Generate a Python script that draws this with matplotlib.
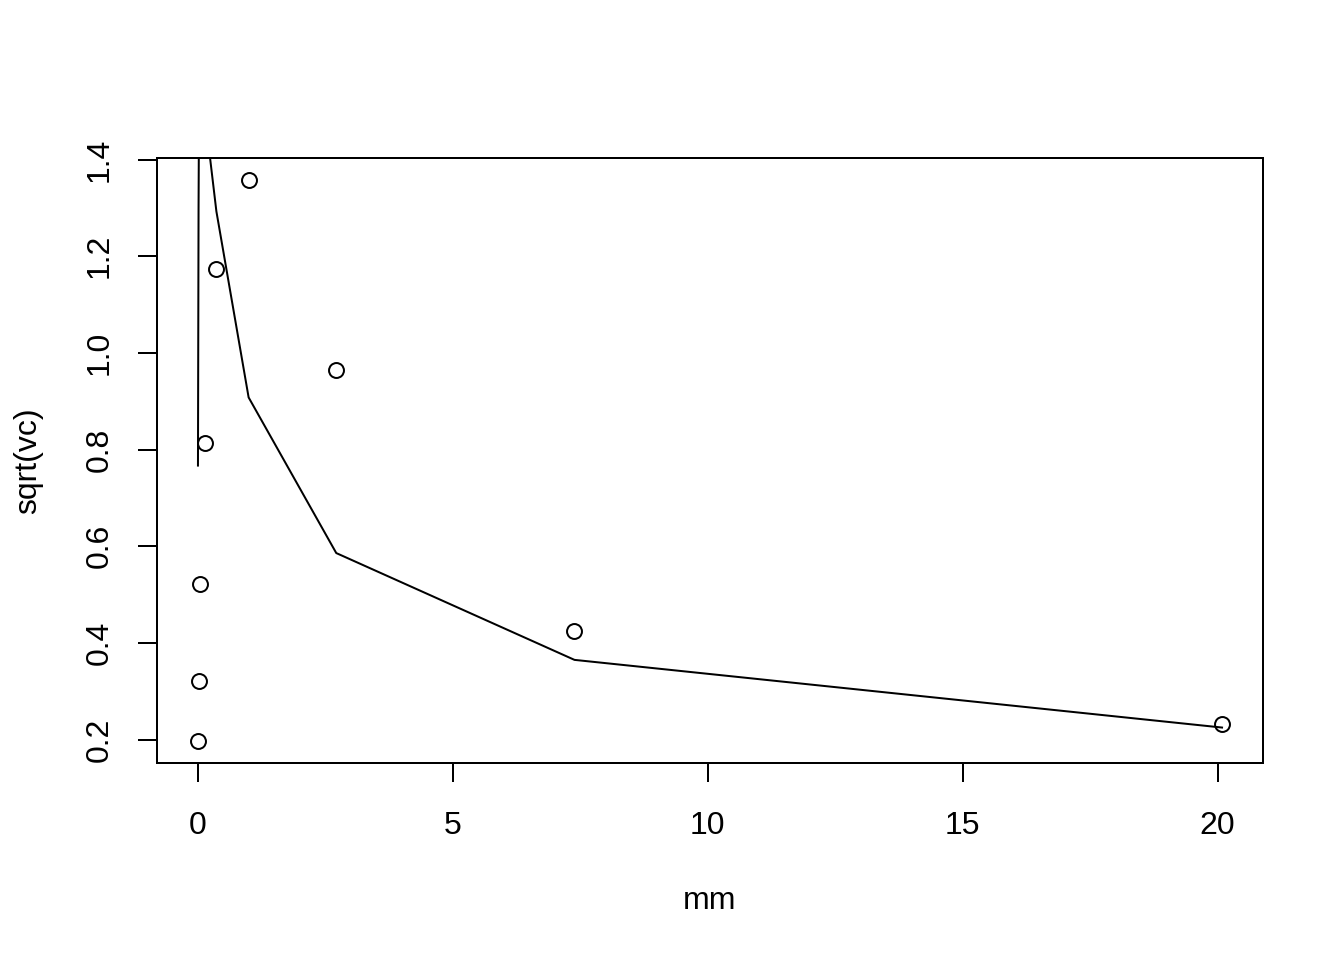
import numpy as np
import matplotlib
matplotlib.use("Agg")
import matplotlib.pyplot as plt

plt.rcParams['font.family'] = ['Liberation Sans', 'DejaVu Sans']

# observed points
mm = [0.0067, 0.0183, 0.0498, 0.1353, 0.3679, 1.0, 2.7183, 7.3891, 20.0855]
vc_sqrt = [0.198, 0.322, 0.522, 0.814, 1.173, 1.357, 0.965, 0.425, 0.233]

# fitted curve (values above 1.4 are off the plot)
fit_y = [0.767, 1.30, 2.0, 1.50, 1.293, 0.908, 0.586, 0.365, 0.225]

fig = plt.figure(figsize=(7, 5), dpi=192)
ax = fig.add_axes([157 / 1344, 1 - 763 / 960, (1263 - 157) / 1344, (763 - 158) / 960])

ax.plot(mm, vc_sqrt, linestyle='none', marker='o', markersize=5.6,
        markerfacecolor='none', markeredgecolor='black', markeredgewidth=0.75)
ax.plot(mm, fit_y, color='black', linewidth=0.75)

xr = max(mm) - min(mm)
ax.set_xlim(min(mm) - 0.04 * xr, max(mm) + 0.04 * xr)
yr = max(vc_sqrt) - min(vc_sqrt)
ax.set_ylim(min(vc_sqrt) - 0.04 * yr, max(vc_sqrt) + 0.04 * yr)

ax.set_xticks([0, 5, 10, 15, 20])
ax.set_yticks([0.2, 0.4, 0.6, 0.8, 1.0, 1.2, 1.4])
ax.set_yticklabels(['0.2', '0.4', '0.6', '0.8', '1.0', '1.2', '1.4'],
                   rotation=90, va='center')

for s in ax.spines.values():
    s.set_linewidth(0.75)
ax.tick_params(direction='out', length=7, width=0.75, labelsize=12, pad=11)
ax.tick_params(axis='y', pad=9)

ax.set_xlabel('mm', fontsize=12, labelpad=17)
ax.set_ylabel('sqrt(vc)', fontsize=12, labelpad=15.5)

fig.savefig('out.png', dpi=192)
